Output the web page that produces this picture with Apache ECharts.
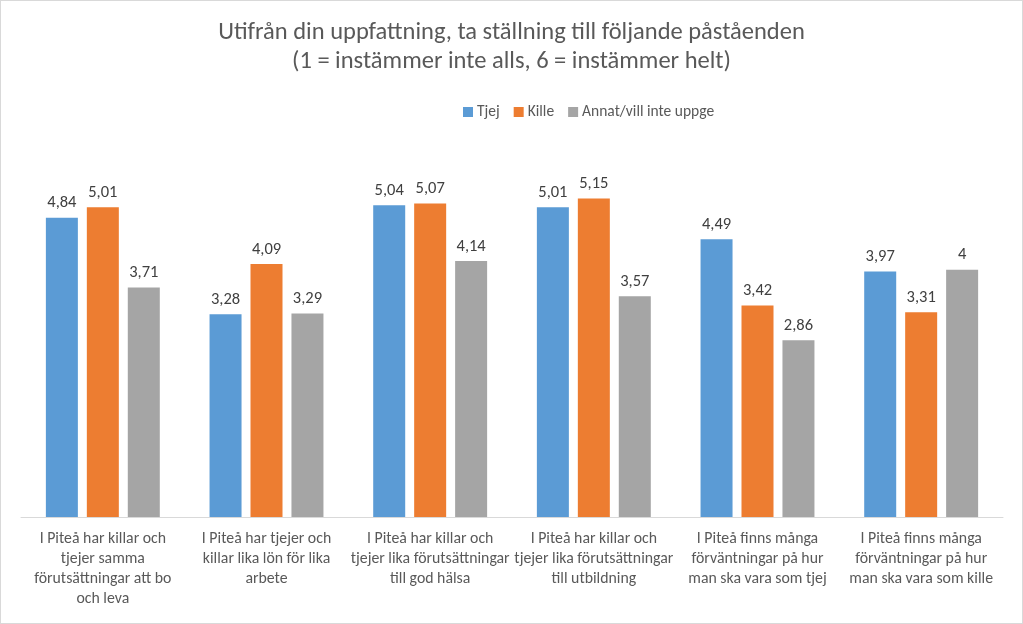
<!DOCTYPE html>
<html><head><meta charset="utf-8">
<script src="https://cdn.jsdelivr.net/npm/echarts@6/dist/echarts.min.js"></script>
<style>html,body{margin:0;padding:0;background:#fff}#c{width:1021px;height:622px;border:1px solid #d9d9d9}</style>
</head><body><div id="c"></div>
<script>
const categories = [
  "I Piteå har killar och\ntjejer samma\nförutsättningar att bo\noch leva",
  "I Piteå har tjejer och\nkillar lika lön för lika\narbete",
  "I Piteå har killar och\ntjejer lika förutsättningar\ntill god hälsa",
  "I Piteå har killar och\ntjejer lika förutsättningar\ntill utbildning",
  "I Piteå finns många\nförväntningar på hur\nman ska vara som tjej",
  "I Piteå finns många\nförväntningar på hur\nman ska vara som kille"
];
const seriesNames = ["Tjej", "Kille", "Annat/vill inte uppge"];
const tjej = [4.84, 3.28, 5.04, 5.01, 4.49, 3.97];
const kille = [5.01, 4.09, 5.07, 5.15, 3.42, 3.31];
const annat = [3.71, 3.29, 4.14, 3.57, 2.86, 4];
const colors = ["#5b9bd5", "#ed7d31", "#a5a5a5"];
const FONT = "Carlito, Lato, 'Noto Sans', sans-serif";

const chart = echarts.init(document.getElementById('c'));
const mk = (name, data, color) => ({
  name, type: 'bar', data, barWidth: 32, barGap: '28%',
  itemStyle: {color},
  label: {show: true, position: 'top', distance: 6, color: '#404040', fontSize: 16.5, fontFamily: FONT,
    formatter: p => String(p.value).replace('.', ',')}
});
chart.setOption({
  animation: false,
  title: {
    text: "Utifrån din uppfattning, ta ställning till följande påståenden\n(1 = instämmer inte alls, 6 = instämmer helt)",
    left: 'center', top: 12,
    textStyle: {fontFamily: FONT, fontSize: 24.5, fontWeight: 'normal', color: '#595959', lineHeight: 29}
  },
  legend: {
    top: 98, left: 457, itemWidth: 10, itemHeight: 10, itemGap: 14,
    icon: 'rect',
    textStyle: {fontFamily: FONT, fontSize: 15.5, color: '#595959', padding: [0, 0, 0, -1]},
    data: seriesNames
  },
  grid: {left: 20, right: 19, top: 145, bottom: 106, containLabel: false},
  xAxis: {
    type: 'category', data: categories,
    axisLine: {lineStyle: {color: '#d9d9d9'}},
    axisTick: {show: false},
    axisLabel: {interval: 0, margin: 12, color: '#595959', fontSize: 15.8, lineHeight: 20, fontFamily: FONT}
  },
  yAxis: {type: 'value', min: 0, max: 6, show: false, splitLine: {show: false}},
  series: [mk(seriesNames[0], tjej, colors[0]), mk(seriesNames[1], kille, colors[1]), mk(seriesNames[2], annat, colors[2])]
});
</script></body></html>
